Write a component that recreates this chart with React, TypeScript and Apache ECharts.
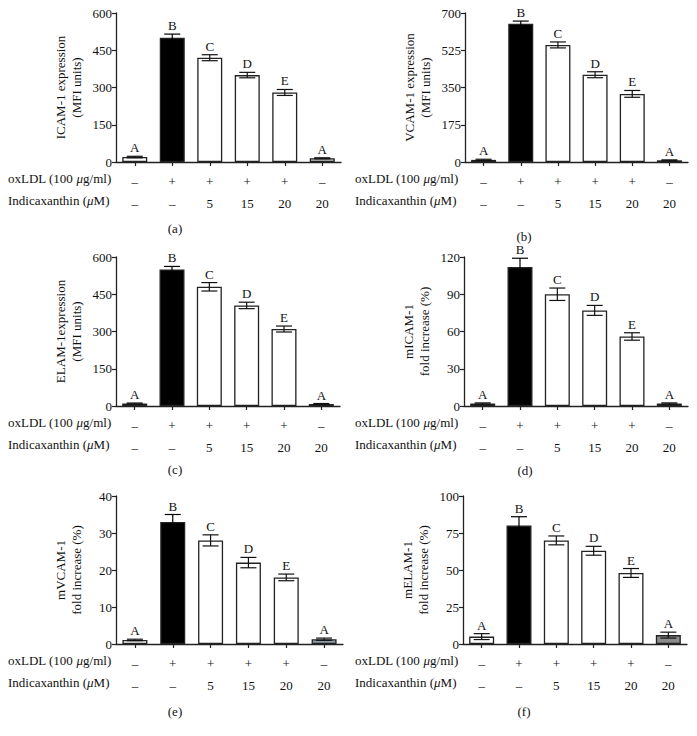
import React, { useEffect, useRef } from "react";
import * as echarts from "echarts";

const OXLDL_ROW = ["–", "+", "+", "+", "+", "–"];
const INDICAXANTHIN_ROW = ["–", "–", "5", "15", "20", "20"];
const LETTERS = ["A", "B", "C", "D", "E", "A"];

const ICAM = [20, 500, 420, 350, 280, 15];
const ICAM_ERR = [3, 15, 12, 11, 12, 2];
const VCAM = [10, 650, 550, 410, 320, 8];
const VCAM_ERR = [3, 12, 14, 14, 16, 2];
const ELAM = [10, 550, 480, 405, 310, 8];
const ELAM_ERR = [2, 12, 17, 13, 12, 2];
const MICAM = [2, 112, 90, 77, 56, 2];
const MICAM_ERR = [0.5, 7, 5, 4, 3, 0.5];
const MVCAM = [1.1, 33, 28, 22, 18, 1.3];
const MVCAM_ERR = [0.2, 2, 1.5, 1.4, 0.9, 0.3];
const MELAM = [5, 80, 70, 63, 48, 6];
const MELAM_ERR = [2, 6, 3, 3, 3, 2];

const FONT = "Liberation Serif, serif";
const INK = "#111";

const PANELS = [
  { tag: "(a)", name: "ICAM-1 expression\n(MFI units)", values: ICAM, errs: ICAM_ERR, max: 600, interval: 150, last: "#c6ccd0",
    grid: { left: 116, top: 13, width: 225, height: 149 }, tagPos: [175, 228], rowX: 8 },
  { tag: "(b)", name: "VCAM-1 expression\n(MFI units)", values: VCAM, errs: VCAM_ERR, max: 700, interval: 175, last: "#a9b0b0",
    grid: { left: 465, top: 13, width: 223, height: 149 }, tagPos: [524, 236], rowX: 355 },
  { tag: "(c)", name: "ELAM-1expression\n(MFI units)", values: ELAM, errs: ELAM_ERR, max: 600, interval: 150, last: "#a4a8a8",
    grid: { left: 116, top: 257, width: 224, height: 149 }, tagPos: [175, 469], rowX: 8 },
  { tag: "(d)", name: "mICAM-1\nfold increase (%)", values: MICAM, errs: MICAM_ERR, max: 120, interval: 30, last: "#a8acac",
    grid: { left: 464, top: 257, width: 224, height: 149 }, tagPos: [525, 470], rowX: 355 },
  { tag: "(e)", name: "mVCAM-1\nfold increase (%)", values: MVCAM, errs: MVCAM_ERR, max: 40, interval: 10, last: "#8e9ea4",
    grid: { left: 116, top: 496, width: 227, height: 148 }, tagPos: [175, 711], rowX: 8 },
  { tag: "(f)", name: "mELAM-1\nfold increase (%)", values: MELAM, errs: MELAM_ERR, max: 100, interval: 25, last: "#8c8c8c",
    grid: { left: 463, top: 496, width: 224, height: 148 }, tagPos: [524, 711], rowX: 355 },
];

export default function App() {
  const ref = useRef<HTMLDivElement>(null);
  useEffect(() => {
    if (!ref.current) return;
    const chart = echarts.init(ref.current, null, { renderer: "svg" });
    const categories = OXLDL_ROW.map((o, i) => `${o}\n${INDICAXANTHIN_ROW[i]}`);
    const grids: any[] = [];
    const xAxes: any[] = [];
    const yAxes: any[] = [];
    const series: any[] = [];
    const graphics: any[] = [];
    const richStyles = {
      n: { fontFamily: FONT, fontSize: 13, color: INK },
      i: { fontFamily: FONT, fontSize: 13, fontStyle: "italic", color: INK },
    };
    PANELS.forEach((p, k) => {
      grids.push({ ...p.grid, containLabel: false });
      xAxes.push({
        type: "category",
        gridIndex: k,
        data: categories,
        axisLine: { lineStyle: { color: "#222", width: 1.3 } },
        axisTick: { show: true, alignWithLabel: true, length: 4, lineStyle: { color: "#222", width: 1.2 } },
        axisLabel: { fontFamily: FONT, fontSize: 13, color: INK, lineHeight: 22, margin: 8, interval: 0 },
      });
      yAxes.push({
        type: "value",
        gridIndex: k,
        min: 0,
        max: p.max,
        interval: p.interval,
        name: p.name,
        nameLocation: "middle",
        nameGap: 32,
        nameRotate: 90,
        nameMoveOverlap: false,
        nameTextStyle: { fontFamily: FONT, fontSize: 13, color: INK, lineHeight: 16, align: "center" },
        axisLine: { show: true, lineStyle: { color: "#222", width: 1.3 } },
        axisTick: { show: true, length: 4, lineStyle: { color: "#222", width: 1.2 } },
        axisLabel: { fontFamily: FONT, fontSize: 13, color: INK, margin: 4 },
        splitLine: { show: false },
      });
      series.push({
        type: "bar",
        xAxisIndex: k,
        yAxisIndex: k,
        barWidth: 25,
        data: p.values.map((v, i) => ({
          value: v,
          itemStyle: {
            color: i === 1 ? "#000" : i === 5 ? p.last : "#fff",
            borderColor: "#222",
            borderWidth: 1.3,
          },
        })),
        z: 2,
      });
      series.push({
        type: "custom",
        xAxisIndex: k,
        yAxisIndex: k,
        z: 5,
        data: p.values.map((v, i) => [i, v, p.errs[i]]),
        encode: { x: 0, y: 1 },
        renderItem: (params: any, api: any) => {
          const i = api.value(0);
          const v = api.value(1);
          const e = api.value(2);
          const top = api.coord([i, v + e]);
          const bot = api.coord([i, Math.max(0, v - e)]);
          const x = top[0];
          const h = 8;
          const stroke = i === 1 ? "#000" : "#111";
          return {
            type: "group",
            children: [
              { type: "line", shape: { x1: x, y1: top[1], x2: x, y2: bot[1] }, style: { stroke, lineWidth: 1.2 } },
              { type: "line", shape: { x1: x - h, y1: top[1], x2: x + h, y2: top[1] }, style: { stroke, lineWidth: 1.2 } },
              { type: "line", shape: { x1: x - h, y1: bot[1], x2: x + h, y2: bot[1] }, style: { stroke, lineWidth: 1.2 } },
              {
                type: "text",
                x,
                y: top[1] - 2,
                style: {
                  text: LETTERS[i],
                  textAlign: "center",
                  textVerticalAlign: "bottom",
                  fontFamily: FONT,
                  fontSize: 13,
                  fill: INK,
                },
              },
            ],
          };
        },
      });
      const axisY = p.grid.top + p.grid.height;
      graphics.push({
        type: "text",
        left: p.rowX,
        top: axisY + 19 - 9,
        style: {
          text: "{n|oxLDL (100 }{i|μ}{n|g/ml)}",
          fontFamily: FONT,
          fontSize: 13,
          fill: INK,
          rich: richStyles,
        },
      });
      graphics.push({
        type: "text",
        left: p.rowX,
        top: axisY + 41 - 9,
        style: {
          text: "{n|Indicaxanthin (}{i|μ}{n|M)}",
          fontFamily: FONT,
          fontSize: 13,
          fill: INK,
          rich: richStyles,
        },
      });
      graphics.push({
        type: "text",
        x: p.tagPos[0],
        y: p.tagPos[1],
        style: {
          text: p.tag,
          textAlign: "center",
          textVerticalAlign: "middle",
          fontFamily: FONT,
          fontSize: 13,
          fill: INK,
        },
      });
    });
    chart.setOption({
      animation: false,
      backgroundColor: "#fff",
      textStyle: { fontFamily: FONT },
      grid: grids,
      xAxis: xAxes,
      yAxis: yAxes,
      series,
      graphic: graphics,
    });
    return () => chart.dispose();
  }, []);
  return <div ref={ref} style={{ position: "absolute", left: 0, top: 0, width: 697, height: 736 }} />;
}
